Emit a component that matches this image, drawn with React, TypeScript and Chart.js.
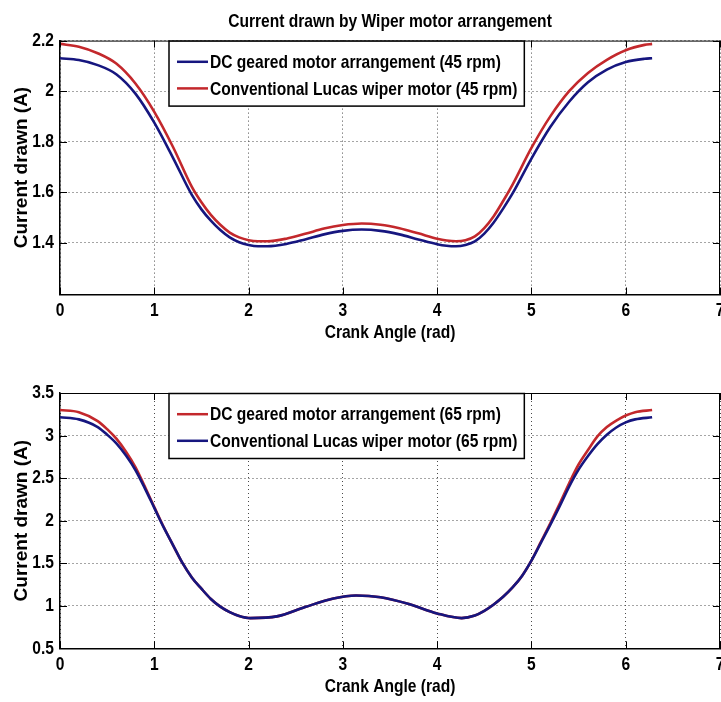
import React, { useEffect, useRef } from 'react';
import { Chart, registerables } from 'chart.js';

Chart.register(...registerables);

// ---------- data ----------
const xTicks = [0, 1, 2, 3, 4, 5, 6, 7];
const topYTicks = [1.4, 1.6, 1.8, 2, 2.2];
const bottomYTicks = [0.5, 1, 1.5, 2, 2.5, 3, 3.5];

const xTop = [0, 0.2, 0.4, 0.6, 0.8, 1.0, 1.2, 1.4, 1.5, 1.6, 1.7, 1.8, 1.9, 2.0, 2.1, 2.2, 2.4, 2.6, 2.8, 3.0, 3.2, 3.4, 3.6, 3.8, 4.0, 4.1, 4.2, 4.3, 4.4, 4.5, 4.6, 4.7, 4.8, 5.0, 5.2, 5.4, 5.6, 5.8, 6.0, 6.2, 6.28];
const topDC45 = [2.13, 2.123, 2.103, 2.066, 1.99, 1.875, 1.735, 1.588, 1.532, 1.487, 1.45, 1.421, 1.402, 1.391, 1.386, 1.386, 1.395, 1.413, 1.433, 1.447, 1.452, 1.447, 1.433, 1.413, 1.394, 1.388, 1.386, 1.391, 1.405, 1.436, 1.48, 1.535, 1.595, 1.733, 1.858, 1.958, 2.035, 2.085, 2.115, 2.128, 2.13];
const topLucas45 = [2.187, 2.176, 2.15, 2.108, 2.03, 1.918, 1.778, 1.62, 1.56, 1.51, 1.471, 1.44, 1.421, 1.41, 1.406, 1.406, 1.416, 1.435, 1.456, 1.47, 1.476, 1.471, 1.457, 1.437, 1.416, 1.409, 1.406, 1.41, 1.425, 1.458, 1.505, 1.565, 1.63, 1.775, 1.9, 2.0, 2.072, 2.124, 2.162, 2.183, 2.187];

const xBottom = [0, 0.2, 0.4, 0.5, 0.6, 0.7, 0.8, 0.9, 1.0, 1.1, 1.2, 1.3, 1.4, 1.5, 1.6, 1.7, 1.8, 1.9, 2.02, 2.3, 2.6, 2.9, 3.14, 3.4, 3.7, 4.0, 4.26, 4.4, 4.5, 4.6, 4.7, 4.8, 4.9, 5.0, 5.1, 5.2, 5.3, 5.4, 5.5, 5.6, 5.7, 5.8, 5.9, 6.0, 6.1, 6.28];
const bottomDC65 = [3.3, 3.275, 3.17, 3.075, 2.96, 2.81, 2.63, 2.4, 2.16, 1.925, 1.71, 1.5, 1.33, 1.2, 1.08, 0.99, 0.925, 0.88, 0.855, 0.875, 0.985, 1.085, 1.12, 1.1, 1.02, 0.91, 0.855, 0.885, 0.94, 1.015, 1.105, 1.215, 1.35, 1.53, 1.75, 1.97, 2.2, 2.44, 2.66, 2.83, 2.99, 3.1, 3.175, 3.235, 3.275, 3.3];
const bottomLucas65 = [3.215, 3.19, 3.1, 3.01, 2.905, 2.765, 2.595, 2.38, 2.15, 1.92, 1.71, 1.5, 1.33, 1.2, 1.08, 0.99, 0.925, 0.88, 0.855, 0.875, 0.985, 1.085, 1.12, 1.1, 1.02, 0.91, 0.855, 0.885, 0.94, 1.015, 1.105, 1.215, 1.35, 1.53, 1.74, 1.95, 2.17, 2.4, 2.6, 2.76, 2.9, 3.01, 3.095, 3.155, 3.19, 3.215];

const TITLE = 'Current drawn by Wiper motor arrangement';
const X_TITLE = 'Crank Angle (rad)';
const Y_TITLE = 'Current drawn (A)';
const topLabels = ['DC geared motor arrangement (45 rpm)', 'Conventional Lucas wiper motor (45 rpm)'];
const bottomLabels = ['DC geared motor arrangement (65 rpm)', 'Conventional Lucas wiper motor (65 rpm)'];

// ---------- style ----------
// "narrow" text = Liberation Sans Bold squeezed horizontally (Arial Narrow look)
const NARROW = "'Liberation Sans', sans-serif";
const NARROW_SCALE = 0.82;
const WIDE = "Arial, 'Liberation Sans', sans-serif";
const BLUE = '#16167f';
const RED = '#c3282c';
const CANVAS_W = 741;

function toPoints(xs: number[], ys: number[]) {
  return xs.map((x, i) => ({ x, y: ys[i] }));
}

function framePlugin() {
  return {
    id: 'matlabFrame',
    afterDatasetsDraw(chart: any) {
      const { ctx, chartArea: ca, scales } = chart;
      const xs = scales.x;
      const ys = scales.y;
      ctx.save();
      ctx.strokeStyle = '#000';
      ctx.lineWidth = 1;
      ctx.beginPath();
      ctx.moveTo(ca.left, ca.top + 0.5);
      ctx.lineTo(ca.right, ca.top + 0.5);
      ctx.moveTo(ca.right - 0.5, ca.top);
      ctx.lineTo(ca.right - 0.5, ca.bottom);
      ctx.stroke();
      const tl = 7;
      ctx.beginPath();
      xs.ticks.forEach((t: any) => {
        const px = Math.round(xs.getPixelForValue(t.value)) + 0.5;
        ctx.moveTo(px, ca.bottom);
        ctx.lineTo(px, ca.bottom - tl);
        ctx.moveTo(px, ca.top);
        ctx.lineTo(px, ca.top + tl);
      });
      ys.ticks.forEach((t: any) => {
        const py = Math.round(ys.getPixelForValue(t.value)) + 0.5;
        ctx.moveTo(ca.left, py);
        ctx.lineTo(ca.left + tl, py);
        ctx.moveTo(ca.right, py);
        ctx.lineTo(ca.right - tl, py);
      });
      ctx.stroke();

      const items = chart.data.datasets.map((d: any) => ({ label: d.label, color: d.borderColor }));
      ctx.font = `bold 19px ${NARROW}`;
      const maxW = Math.max(...items.map((it: any) => ctx.measureText(it.label).width)) * NARROW_SCALE;
      const left = ca.left + 109;
      const top = ca.top + 0.5;
      const w = 41 + maxW + 7;
      const h = 65;
      ctx.fillStyle = '#fff';
      ctx.fillRect(left, top, w, h);
      ctx.lineWidth = 1.5;
      ctx.strokeStyle = '#000';
      ctx.strokeRect(left, top, w, h);
      items.forEach((it: any, i: number) => {
        const y = top + 20.7 + i * 26.6;
        ctx.strokeStyle = it.color;
        ctx.lineWidth = 2.5;
        ctx.beginPath();
        ctx.moveTo(left + 8, y);
        ctx.lineTo(left + 39, y);
        ctx.stroke();
        ctx.fillStyle = '#000';
        ctx.textBaseline = 'middle';
        ctx.textAlign = 'left';
        ctx.fillText(it.label, left + 41, y + 1);
      });
      ctx.restore();
    },
  };
}

function makeConfig(opts: {
  xs: number[];
  series: { label: string; data: number[]; color: string; order: number }[];
  yTicks: number[];
  yMin: number;
  yMax: number;
  showTitle: boolean;
  padTop: number;
  xAxisHeight: number;
  xTitlePadBottom: number;
}) {
  return {
    type: 'line',
    data: {
      datasets: opts.series.map((s) => ({
        label: s.label,
        data: toPoints(opts.xs, s.data),
        borderColor: s.color,
        backgroundColor: s.color,
        borderWidth: 2.6,
        pointRadius: 0,
        fill: false,
        cubicInterpolationMode: 'monotone',
        order: s.order,
      })),
    },
    options: {
      animation: false,
      responsive: false,
      devicePixelRatio: 1,
      events: [],
      layout: { padding: { top: opts.padTop, left: 0, right: 21, bottom: 0 } },
      plugins: {
        legend: { display: false },
        tooltip: { enabled: false },
        title: {
          display: opts.showTitle,
          text: TITLE,
          color: '#000',
          fullSize: false,
          font: { family: NARROW, size: 19, weight: 'bold' },
          padding: { top: 10.6, bottom: 7.2 },
        },
      },
      scales: {
        x: {
          type: 'linear',
          min: 0,
          max: 7,
          afterBuildTicks: (scale: any) => {
            scale.ticks = xTicks.map((v) => ({ value: v }));
          },
          afterFit: (scale: any) => {
            scale.height = opts.xAxisHeight;
          },
          grid: { color: '#4a4a4a', lineWidth: 1, drawTicks: false },
          border: { display: true, color: '#000', width: 1.5, dash: [1, 3] },
          ticks: {
            color: '#000',
            padding: 5,
            maxRotation: 0,
            font: { family: NARROW, size: 19, weight: 'bold' },
            callback: (v: any) => String(v),
          },
          title: {
            display: true,
            text: X_TITLE,
            color: '#000',
            font: { family: NARROW, size: 19, weight: 'bold' },
            padding: { top: 0, bottom: opts.xTitlePadBottom },
          },
        },
        y: {
          type: 'linear',
          min: opts.yMin,
          max: opts.yMax,
          afterBuildTicks: (scale: any) => {
            scale.ticks = opts.yTicks.map((v) => ({ value: v }));
          },
          afterFit: (scale: any) => {
            scale.width = 60;
          },
          grid: { color: '#4a4a4a', lineWidth: 1, drawTicks: false },
          border: { display: true, color: '#000', width: 1.5, dash: [1, 3] },
          ticks: {
            color: '#000',
            padding: 6,
            font: { family: NARROW, size: 19, weight: 'bold' },
            callback: (v: any) => String(+Number(v).toFixed(2)),
          },
          title: {
            display: true,
            text: Y_TITLE,
            color: '#000',
            font: { family: WIDE, size: 19, weight: 'bold' },
            padding: { top: 10.6, bottom: 0 },
          },
        },
      },
    },
    plugins: [framePlugin()],
  } as any;
}

function condenseText(canvas: HTMLCanvasElement) {
  const ctx: any = canvas.getContext('2d');
  if (!ctx || ctx.__condensed) return;
  const orig = ctx.fillText;
  ctx.fillText = function (text: string, x: number, y: number, maxWidth?: number) {
    if (/Arial/.test(this.font)) {
      return maxWidth === undefined ? orig.call(this, text, x, y) : orig.call(this, text, x, y, maxWidth);
    }
    this.save();
    this.translate(x, y);
    this.scale(NARROW_SCALE, 1);
    if (maxWidth === undefined) orig.call(this, text, 0, 0);
    else orig.call(this, text, 0, 0, maxWidth / NARROW_SCALE);
    this.restore();
  };
  ctx.__condensed = true;
}

function ChartCanvas({ config, height }: { config: any; height: number }) {
  const ref = useRef<HTMLCanvasElement | null>(null);
  useEffect(() => {
    if (!ref.current) return;
    condenseText(ref.current);
    const chart = new Chart(ref.current, config);
    return () => chart.destroy();
  }, [config]);
  return <canvas ref={ref} width={CANVAS_W} height={height} style={{ display: 'block' }} />;
}

const topConfig = makeConfig({
  xs: xTop,
  series: [
    { label: topLabels[0], data: topDC45, color: BLUE, order: 0 },
    { label: topLabels[1], data: topLucas45, color: RED, order: 1 },
  ],
  yTicks: topYTicks,
  yMin: 1.195,
  yMax: 2.2,
  showTitle: true,
  padTop: 0,
  xAxisHeight: 57.5,
  xTitlePadBottom: 7.6,
});

const bottomConfig = makeConfig({
  xs: xBottom,
  series: [
    { label: bottomLabels[0], data: bottomDC65, color: RED, order: 1 },
    { label: bottomLabels[1], data: bottomLucas65, color: BLUE, order: 0 },
  ],
  yTicks: bottomYTicks,
  yMin: 0.5,
  yMax: 3.5,
  showTitle: false,
  padTop: 41,
  xAxisHeight: 53.7,
  xTitlePadBottom: 3.6,
});

export default function App() {
  return (
    <div
      style={{
        position: 'fixed',
        left: 0,
        top: 0,
        width: 721,
        height: 702,
        overflow: 'hidden',
        background: '#fff',
      }}
    >
      <div style={{ position: 'absolute', left: 0, top: 0 }}>
        <ChartCanvas config={topConfig} height={352} />
      </div>
      <div style={{ position: 'absolute', left: 0, top: 352 }}>
        <ChartCanvas config={bottomConfig} height={350} />
      </div>
    </div>
  );
}
